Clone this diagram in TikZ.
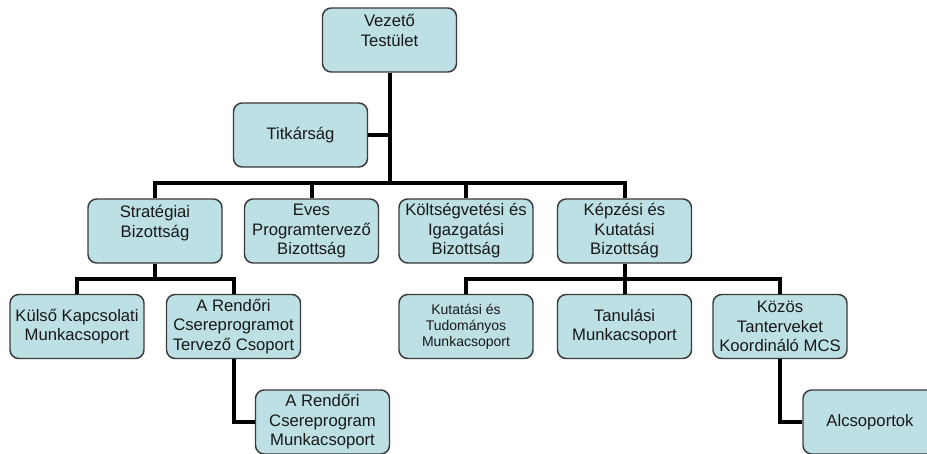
\documentclass[tikz,border=0pt]{standalone}
\usepackage{fontspec}
\setmainfont{Liberation Sans}
\usepackage{xcolor}
\usepackage{tikz}
\usetikzlibrary{calc,positioning}
\definecolor{fond-boite}{HTML}{BCE0E3}
\definecolor{bord-boite}{HTML}{3A3A3A}
\tikzstyle{boite-std}=[draw=bord-boite,fill=fond-boite,line width=1.1pt,rounded corners=6.5pt,minimum width=100.5pt,minimum height=48pt,inner sep=1pt,align=center,text=black!90,font=\fontsize{12.5}{14.6}\selectfont]
\tikzstyle{boite-petit}=[boite-std,font=\fontsize{10.5}{12}\selectfont]
\tikzstyle{lien-std}=[draw=black,line width=3pt]

\begin{document}
\begin{tikzpicture}[x=0.75pt,y=-0.75pt]
\clip (0,0) rectangle (927,453);

\node[boite-std] (vezeto) at (389.5,40) {Vezető\\Testület\\~};
\node[boite-std] (titkarsag) at (300.5,135) {Titkárság};

\node[boite-std] (strat) at (155,231) {Stratégiai\\Bizottság\\~};
\node[boite-std] (eves) at (311.5,231) {Eves\\Programtervező\\Bizottság};
\node[boite-std] (kolts) at (466,231) {Költségvetési és\\Igazgatási\\Bizottság};
\node[boite-std] (kepz) at (624.5,231) {Képzési és\\Kutatási\\Bizottság};

\node[boite-std] (kulso) at (77,326.5) {Külső Kapcsolati\\Munkacsoport};
\node[boite-std] (rendori) at (233.5,326.5) {A Rendőri\\Csereprogramot\\Tervező Csoport};
\node[boite-std] (rendmcs) at (322.5,422) {A Rendőri\\Csereprogram\\Munkacsoport};

\node[boite-petit] (kutat) at (466,326.5) {Kutatási és\\Tudományos\\Munkacsoport};
\node[boite-std] (tanul) at (624.5,326.5) {Tanulási\\Munkacsoport};
\node[boite-std] (kozos) at (780,326.5) {Közös\\Tanterveket\\Koordináló MCS};
\node[boite-std] (alcsop) at (870,422) {Alcsoportok};

% barres horizontales
\coordinate (barre0) at (vezeto.south |- 0,183);
\coordinate (barre1) at (strat.south |- 0,279);
\coordinate (barre2) at (kepz.south |- 0,279);

\draw[lien-std] (vezeto.south) -- (barre0);
\draw[lien-std] (titkarsag.east) -- (titkarsag.east -| vezeto.south);
\draw[lien-std] (strat.north) |- (barre0) -| (kepz.north);
\draw[lien-std] (eves.north) -- (eves.north |- barre0);
\draw[lien-std] (kolts.north) -- (kolts.north |- barre0);

\draw[lien-std] (strat.south) -- (barre1);
\draw[lien-std] (kulso.north) |- (barre1) -| (rendori.north);
\draw[lien-std] (rendori.south) |- (rendmcs.west);

\draw[lien-std] (kepz.south) -- (barre2);
\draw[lien-std] (kutat.north) |- (barre2) -| (kozos.north);
\draw[lien-std] (tanul.north) -- (tanul.north |- barre2);
\draw[lien-std] (kozos.south) |- (alcsop.west);
\end{tikzpicture}
\end{document}
